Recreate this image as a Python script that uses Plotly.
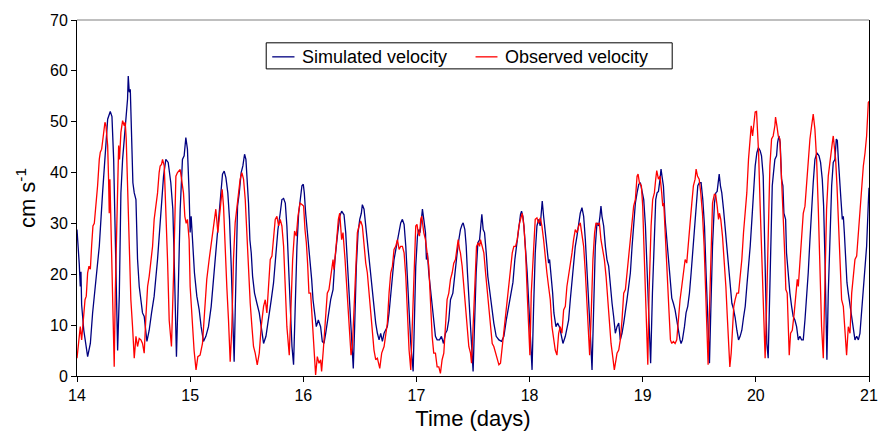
import plotly.graph_objects as go

# ---- data (time in days, speed in cm/s) ----
sim_t = [14.000, 14.006, 14.020, 14.029, 14.035, 14.041, 14.060, 14.094, 14.118, 14.138, 14.159, 14.176, 14.197, 14.226, 14.256, 14.271, 14.294, 14.309, 14.324, 14.335, 14.353, 14.359, 14.374, 14.388, 14.403, 14.418, 14.432, 14.447, 14.453, 14.462, 14.471, 14.482, 14.494, 14.506, 14.521, 14.535, 14.550, 14.579, 14.594, 14.618, 14.638, 14.659, 14.682, 14.712, 14.741, 14.765, 14.785, 14.806, 14.829, 14.847, 14.859, 14.874, 14.879, 14.894, 14.912, 14.932, 14.947, 14.962, 14.976, 14.991,
         15.000, 15.009, 15.021, 15.038, 15.059, 15.080, 15.097, 15.118, 15.139, 15.162, 15.186, 15.206, 15.227, 15.251, 15.271, 15.286, 15.301, 15.316, 15.333, 15.348, 15.363, 15.378, 15.389, 15.398, 15.407, 15.419, 15.434, 15.451, 15.466, 15.481, 15.493, 15.504, 15.516, 15.528, 15.540, 15.552, 15.569, 15.590, 15.611, 15.628, 15.649, 15.670, 15.693, 15.717, 15.737, 15.758, 15.776, 15.796, 15.811, 15.826, 15.841, 15.855, 15.870, 15.885, 15.900, 15.914, 15.929, 15.944, 15.959, 15.976, 15.988,
         16.000, 16.009, 16.021, 16.032, 16.044, 16.056, 16.074, 16.086, 16.103, 16.115, 16.133, 16.153, 16.168, 16.183, 16.198, 16.221, 16.242, 16.263, 16.280, 16.301, 16.322, 16.339, 16.360, 16.375, 16.389, 16.404, 16.419, 16.434, 16.442, 16.454, 16.469, 16.484, 16.499, 16.513, 16.522, 16.537, 16.552, 16.566, 16.581, 16.596, 16.611, 16.625, 16.640, 16.655, 16.670, 16.684, 16.699, 16.714, 16.729, 16.743, 16.758, 16.773, 16.788, 16.802, 16.823, 16.847, 16.861, 16.876, 16.891, 16.906, 16.920, 16.935, 16.950, 16.971, 16.982, 16.994,
         17.009, 17.021, 17.032, 17.044, 17.053, 17.065, 17.080, 17.088, 17.097, 17.109, 17.121, 17.133, 17.145, 17.156, 17.168, 17.183, 17.204, 17.221, 17.239, 17.257, 17.271, 17.286, 17.301, 17.322, 17.339, 17.360, 17.375, 17.389, 17.404, 17.413, 17.428, 17.440, 17.451, 17.463, 17.478, 17.493, 17.501, 17.513, 17.528, 17.543, 17.558, 17.569, 17.578, 17.590, 17.602, 17.617, 17.631, 17.646, 17.664, 17.684, 17.705, 17.729, 17.752, 17.773, 17.794, 17.817, 17.841, 17.853, 17.870, 17.891, 17.906, 17.920, 17.929, 17.941, 17.950, 17.965, 17.979, 17.994,
         18.009, 18.022, 18.035, 18.050, 18.065, 18.080, 18.094, 18.103, 18.112, 18.124, 18.139, 18.153, 18.168, 18.177, 18.192, 18.204, 18.215, 18.233, 18.248, 18.263, 18.277, 18.295, 18.316, 18.330, 18.345, 18.360, 18.375, 18.389, 18.404, 18.419, 18.434, 18.448, 18.463, 18.478, 18.493, 18.507, 18.522, 18.537, 18.552, 18.566, 18.581, 18.596, 18.611, 18.622, 18.631, 18.640, 18.655, 18.670, 18.684, 18.699, 18.714, 18.729, 18.743, 18.758, 18.773, 18.788, 18.802, 18.817, 18.832, 18.847, 18.861, 18.876, 18.891, 18.906, 18.920, 18.935, 18.950, 18.965, 18.979, 18.994,
         19.009, 19.024, 19.038, 19.053, 19.070, 19.086, 19.103, 19.115, 19.127, 19.139, 19.153, 19.162, 19.174, 19.183, 19.198, 19.212, 19.221, 19.233, 19.245, 19.257, 19.271, 19.286, 19.301, 19.316, 19.330, 19.339, 19.351, 19.369, 19.383, 19.398, 19.413, 19.428, 19.442, 19.457, 19.472, 19.487, 19.501, 19.516, 19.531, 19.546, 19.560, 19.575, 19.590, 19.602, 19.617, 19.634, 19.646, 19.658, 19.667, 19.676, 19.687, 19.699, 19.714, 19.729, 19.743, 19.752, 19.764, 19.773, 19.788, 19.802, 19.817, 19.832, 19.847, 19.861, 19.876, 19.891, 19.906, 19.920, 19.935, 19.950, 19.965, 19.979, 19.994,
         20.009, 20.022, 20.038, 20.050, 20.065, 20.074, 20.086, 20.097, 20.109, 20.121, 20.133, 20.145, 20.156, 20.168, 20.183, 20.192, 20.204, 20.215, 20.227, 20.239, 20.248, 20.263, 20.271, 20.286, 20.301, 20.316, 20.330, 20.345, 20.360, 20.375, 20.389, 20.404, 20.419, 20.434, 20.448, 20.463, 20.478, 20.493, 20.507, 20.522, 20.540, 20.558, 20.572, 20.587, 20.599, 20.611, 20.619, 20.628, 20.640, 20.655, 20.670, 20.684, 20.699, 20.711, 20.720, 20.729, 20.743, 20.752, 20.764, 20.773, 20.782, 20.794, 20.805, 20.817, 20.832, 20.847, 20.861, 20.876, 20.891, 20.906, 20.920, 20.935, 20.950, 20.965, 20.979, 20.994, 21.000]
sim_v = [28.8, 27, 22, 17.6, 20.5, 14, 9, 3.8, 6.4, 12.4, 17, 20, 25.5, 36, 47, 50.5, 52, 51, 42.6, 29.5, 9.7, 5, 16, 36, 42.6, 46.6, 51, 54.5, 59, 55.8, 56.4, 46, 38, 36, 34.7, 23, 17.6, 12.4, 11.7, 6.8, 9, 12.4, 15.7, 23, 32.8, 39.3, 42.6, 42, 38, 32.8, 23, 9.7, 3.8, 16, 32.8, 42.6, 43.3, 46.9, 44.6, 36,
         28.2, 31.4, 25.5, 20.3, 15.7, 13, 9.7, 6.8, 7.8, 9.7, 13.7, 19, 25.5, 32, 37.4, 39.7, 40.3, 39, 36, 30.8, 21.6, 9.7, 2.8, 12.4, 25.5, 33.4, 36, 40, 41.3, 43.6, 42.6, 39.3, 34, 26.8, 24.2, 19.6, 16.3, 14.3, 12.4, 9.7, 6.4, 7.8, 11, 15, 18.3, 24.2, 28.8, 32, 34.7, 34.9, 34, 29.5, 21.6, 12.4, 5.8, 2.2, 15, 25.5, 32, 34.7, 37.4,
         37.7, 36, 32, 29.5, 26.8, 23.6, 19, 15, 11, 9.7, 11, 9.7, 6.8, 6.4, 8.4, 12.4, 15, 17, 22.9, 27.5, 31.4, 32.4, 31.7, 28.2, 22.9, 16.3, 9.7, 4.5, 1.5, 9.7, 21.6, 28.2, 30.8, 32, 33.7, 32.8, 29.5, 25.5, 22.9, 20.3, 17, 13.7, 10.4, 8.4, 7.1, 8.4, 6.8, 8.4, 9, 9.7, 12.4, 16.3, 19.6, 22.9, 25.5, 28.2, 30.1, 30.8, 29.8, 25.5, 19.6, 12.4, 6.4, 0.9, 9.7, 21.6,
         27.5, 28.8, 28.2, 31.4, 32.8, 30.8, 28.2, 22.9, 24.2, 20.3, 17.6, 16.3, 13, 9.7, 7.8, 7.1, 7.1, 7.8, 6.4, 8.4, 9, 11, 15, 16.3, 20.3, 24.2, 26.8, 28.8, 29.8, 30.1, 28.8, 25.5, 20.3, 15, 8.4, 4.5, 0.9, 9.7, 20.3, 26.2, 26.8, 29.5, 31.8, 28.8, 28.2, 24.2, 19.6, 17, 13.7, 10.4, 7.8, 7.1, 6.8, 7.8, 11, 13.7, 16.3, 18.4, 22.9, 26.8, 29.5, 31.8, 32.4, 31.4, 29.5, 25.5, 20.3, 13.7,
         7.1, 1.2, 13, 24.2, 29.5, 30.8, 29.5, 32.8, 34.4, 31.4, 28.2, 24.2, 22.2, 22.9, 19.6, 16.3, 12.4, 9.7, 10.4, 9.7, 8.4, 6.4, 7.8, 9.7, 11, 15, 19, 22.9, 25.5, 27.5, 29.5, 32, 33.1, 31.4, 26.8, 21.6, 15, 8.4, 1.2, 12.4, 25.5, 30.1, 29.5, 31.4, 33.4, 31.4, 29.5, 25.5, 22.9, 21.6, 17.6, 14.3, 11.7, 8.4, 9.7, 10.4, 7.1, 8.4, 10.4, 12.4, 15, 17.6, 20.3, 25.5, 29.5, 34, 36, 37.7, 38, 36,
         34.7, 29.5, 21.6, 12.4, 2.5, 16.3, 29.5, 34.7, 36, 36.3, 38.7, 40.7, 38.7, 37.4, 30.8, 26.8, 24.2, 21.6, 19, 15.3, 14.3, 13, 11, 8.4, 7.1, 6.4, 7.1, 9.7, 12.4, 13.7, 16.3, 20.3, 24.2, 29.5, 34, 37.4, 38, 38, 34.7, 29.5, 20.3, 9.7, 2.5, 13, 25.5, 34, 36, 36.3, 38, 39.7, 37.4, 36, 32.8, 28.8, 25.5, 22.9, 20.3, 17.6, 14.3, 13.2, 11.5, 9, 7.1, 7.8, 9, 11.5, 13.7, 17.6, 20.9, 25.5, 30.8, 36, 41.3,
         43.9, 44.9, 44.3, 43.3, 39.3, 29.5, 16.3, 6.4, 3.5, 16.3, 29.5, 37.4, 40, 42.6, 43.3, 45.9, 47.2, 45.9, 38.7, 37.4, 32, 30.8, 24.2, 19.6, 16.3, 13.7, 11.7, 11, 9.7, 7.1, 7.8, 7.1, 7.1, 11, 15, 20.3, 26.8, 33.4, 38, 42.6, 43.9, 43.3, 42, 38.7, 33.4, 22.9, 9.7, 3.2, 16.3, 29.5, 37.4, 42, 42.6, 46.6, 46.3, 42.6, 38.7, 34.7, 30.8, 31.4, 28.2, 21.6, 18.4, 16.3, 13.7, 11.7, 9.7, 7.1, 7.8, 7.1, 8.4, 12.4, 16.3, 20.3, 25.5, 34, 37]

obs_t = [14.000, 14.021, 14.029, 14.041, 14.059, 14.071, 14.082, 14.094, 14.106, 14.118, 14.129, 14.141, 14.153, 14.168, 14.182, 14.197, 14.206, 14.218, 14.229, 14.247, 14.256, 14.271, 14.279, 14.285, 14.291, 14.300, 14.309, 14.321, 14.329, 14.338, 14.350, 14.359, 14.368, 14.376, 14.388, 14.403, 14.418, 14.426, 14.435, 14.447, 14.462, 14.476, 14.491, 14.506, 14.521, 14.535, 14.550, 14.565, 14.579, 14.594, 14.609, 14.624, 14.638, 14.653, 14.668, 14.682, 14.697, 14.712, 14.726, 14.735, 14.747, 14.756, 14.771, 14.785, 14.800, 14.815, 14.835, 14.853, 14.874, 14.888, 14.912, 14.924, 14.941, 14.953, 14.965, 14.976, 14.991,
         15.000, 15.012, 15.024, 15.035, 15.052, 15.068, 15.088, 15.109, 15.127, 15.147, 15.168, 15.183, 15.198, 15.215, 15.227, 15.245, 15.257, 15.271, 15.283, 15.295, 15.310, 15.324, 15.339, 15.354, 15.369, 15.383, 15.398, 15.413, 15.428, 15.442, 15.457, 15.472, 15.487, 15.501, 15.516, 15.531, 15.546, 15.560, 15.575, 15.593, 15.611, 15.628, 15.649, 15.664, 15.678, 15.693, 15.708, 15.723, 15.737, 15.752, 15.767, 15.782, 15.796, 15.811, 15.826, 15.841, 15.855, 15.876, 15.894, 15.906, 15.923, 15.938, 15.953, 15.971, 15.988,
         16.003, 16.015, 16.027, 16.038, 16.050, 16.065, 16.080, 16.094, 16.109, 16.124, 16.139, 16.153, 16.162, 16.177, 16.192, 16.212, 16.227, 16.251, 16.263, 16.271, 16.286, 16.298, 16.310, 16.322, 16.339, 16.351, 16.369, 16.383, 16.398, 16.413, 16.422, 16.434, 16.448, 16.463, 16.478, 16.493, 16.507, 16.522, 16.537, 16.552, 16.566, 16.581, 16.596, 16.611, 16.625, 16.640, 16.655, 16.676, 16.693, 16.714, 16.729, 16.743, 16.758, 16.773, 16.788, 16.802, 16.817, 16.832, 16.847, 16.861, 16.876, 16.891, 16.906, 16.920, 16.935, 16.950, 16.965, 16.979, 16.994,
         17.005, 17.015, 17.027, 17.038, 17.047, 17.056, 17.065, 17.080, 17.094, 17.109, 17.118, 17.127, 17.139, 17.153, 17.168, 17.183, 17.198, 17.212, 17.227, 17.242, 17.257, 17.271, 17.286, 17.301, 17.316, 17.330, 17.345, 17.360, 17.369, 17.381, 17.389, 17.404, 17.419, 17.434, 17.448, 17.463, 17.478, 17.487, 17.501, 17.516, 17.531, 17.546, 17.558, 17.566, 17.581, 17.596, 17.611, 17.625, 17.640, 17.655, 17.670, 17.684, 17.699, 17.714, 17.729, 17.743, 17.758, 17.773, 17.788, 17.802, 17.817, 17.832, 17.847, 17.861, 17.876, 17.891, 17.906, 17.920, 17.935, 17.950, 17.965, 17.979, 17.992,
         18.003, 18.015, 18.035, 18.050, 18.065, 18.080, 18.094, 18.109, 18.124, 18.139, 18.153, 18.168, 18.183, 18.198, 18.212, 18.227, 18.242, 18.257, 18.271, 18.286, 18.301, 18.316, 18.330, 18.345, 18.360, 18.375, 18.389, 18.404, 18.419, 18.434, 18.448, 18.463, 18.478, 18.493, 18.507, 18.522, 18.531, 18.546, 18.560, 18.575, 18.587, 18.602, 18.617, 18.631, 18.646, 18.661, 18.676, 18.690, 18.705, 18.720, 18.735, 18.749, 18.764, 18.773, 18.788, 18.802, 18.817, 18.832, 18.847, 18.861, 18.876, 18.891, 18.906, 18.920, 18.935, 18.950, 18.959, 18.971, 18.988,
         19.000, 19.009, 19.024, 19.038, 19.045, 19.056, 19.074, 19.088, 19.103, 19.115, 19.124, 19.139, 19.153, 19.168, 19.177, 19.186, 19.198, 19.212, 19.221, 19.233, 19.245, 19.257, 19.271, 19.286, 19.301, 19.316, 19.330, 19.345, 19.360, 19.375, 19.389, 19.404, 19.419, 19.434, 19.448, 19.463, 19.472, 19.484, 19.499, 19.513, 19.528, 19.543, 19.558, 19.569, 19.578, 19.590, 19.605, 19.617, 19.634, 19.646, 19.658, 19.670, 19.678, 19.690, 19.705, 19.720, 19.735, 19.746, 19.758, 19.770, 19.782, 19.794, 19.805, 19.817, 19.832, 19.847, 19.861, 19.876, 19.891, 19.906, 19.920, 19.935, 19.950, 19.959, 19.971, 19.982, 19.994,
         20.006, 20.024, 20.038, 20.053, 20.068, 20.082, 20.094, 20.109, 20.124, 20.139, 20.153, 20.168, 20.174, 20.186, 20.198, 20.212, 20.221, 20.233, 20.245, 20.257, 20.265, 20.277, 20.286, 20.295, 20.307, 20.322, 20.339, 20.354, 20.366, 20.375, 20.389, 20.404, 20.419, 20.434, 20.448, 20.463, 20.478, 20.493, 20.507, 20.522, 20.537, 20.552, 20.566, 20.581, 20.596, 20.611, 20.625, 20.640, 20.655, 20.664, 20.676, 20.684, 20.693, 20.705, 20.717, 20.729, 20.743, 20.758, 20.773, 20.788, 20.802, 20.817, 20.832, 20.847, 20.861, 20.876, 20.891, 20.906, 20.920, 20.935, 20.950, 20.965, 20.979, 20.994, 21.000]
obs_v = [3.5, 7.8, 9.7, 7.1, 12.4, 15, 15.7, 20.3, 21.6, 21, 25.5, 29.5, 30, 33.4, 37.4, 42.6, 44, 44.6, 47, 49.9, 49.2, 45.3, 38.7, 32, 38.7, 29.5, 17.6, 6.4, 1.8, 16, 29.5, 42.6, 45.3, 42.6, 47.9, 50.2, 49.2, 49.9, 46.6, 37.4, 23, 15, 9.7, 3.5, 7.8, 5.8, 7.4, 7.1, 6.4, 4.5, 11.7, 17.6, 19.6, 22.2, 25.5, 30.8, 33.4, 36, 40, 41.3, 41.6, 42.6, 41.3, 34, 23, 10.9, 5.8, 19.6, 39.3, 40, 40.6, 38.7, 36, 31.4, 30, 30.8, 26.8,
         17.6, 12.4, 8, 5, 1.2, 3.8, 4.1, 6.4, 12.4, 19, 22.9, 25.2, 28.2, 30.8, 32.8, 28.2, 30.8, 34.7, 36.7, 33.4, 24.2, 17.6, 11, 2.8, 9.7, 22.9, 30.1, 33.4, 36, 38.7, 40, 38.7, 34.7, 27.5, 20.3, 14.3, 9.7, 5.8, 4.5, 2.2, 4.5, 9.7, 13.7, 15, 12.4, 19, 22.9, 23.6, 26.8, 30.8, 31.4, 29.5, 30.8, 29.5, 25.5, 17.6, 9.7, 4.1, 16.3, 22.9, 28.5, 27.5, 31.4, 34, 33.7,
         33.4, 28.8, 26.2, 22.2, 16.3, 16.3, 11, 6.4, 0.2, 3.8, 2.5, 3.2, 0.9, 5.1, 10.4, 16.3, 17, 21.6, 22.9, 20.9, 25.5, 27.5, 30.8, 32, 26.8, 28.2, 22.9, 17.6, 11, 5.8, 4.1, 5.8, 13.7, 21.6, 28.2, 29.5, 30.5, 29.5, 25.5, 22.2, 20.3, 16.3, 12.4, 8.4, 5.1, 3.2, 3.5, 1.5, 4.5, 5.8, 8.4, 10.4, 16.3, 20.3, 21.6, 24.9, 25.5, 26.8, 24.9, 25.5, 25.5, 24.2, 19.6, 12.4, 5.1, 1.2, 9.7, 19.6, 29.5,
         29.8, 28.2, 27.5, 30.8, 31.4, 29.5, 28.2, 26.8, 24.2, 21.6, 17.6, 12.4, 7.8, 4.5, 4.5, 1.8, 1.8, 0.5, 3.2, 4.5, 9.7, 15, 16.3, 19, 20.3, 22.2, 22.9, 25.5, 26.8, 24.9, 24.2, 21.6, 17.6, 12.4, 8.4, 5.8, 4.5, 2.5, 9.7, 19.6, 25.5, 26.2, 25.5, 26.8, 25.5, 24.2, 20.3, 17, 12.4, 9.7, 6.4, 5.8, 4.5, 3.2, 2.2, 2.5, 5.8, 9, 12.4, 15, 17.6, 21.6, 24.2, 25.5, 25.5, 26.8, 29.5, 30.8, 32, 29.5, 24.2, 16.3, 9.7,
         4.1, 16.3, 25.5, 30.8, 31.1, 30, 31.1, 29.5, 26.8, 22.9, 20.3, 17.6, 15, 9.7, 7.1, 5.1, 4.1, 8.4, 9.7, 8.4, 13, 13.7, 17.6, 19.6, 21.6, 24.2, 26.8, 28.8, 28.2, 29.5, 30.1, 28.2, 25.5, 20.3, 13.7, 7.1, 4.1, 13, 22.9, 28.2, 30.1, 29.8, 30.1, 26.8, 24.9, 22.9, 19.6, 15, 9.7, 6.4, 3.8, 1.2, 3.2, 4.5, 5.1, 7.1, 11, 16.3, 17, 20.3, 22.9, 26.8, 30.8, 33.4, 34.7, 39.3, 39.7, 38, 37.4,
         33.4, 26.8, 16.3, 3.2, 2.2, 16.3, 29.5, 34.7, 36, 38.7, 40.4, 38.7, 39.3, 36, 33.4, 34, 28.2, 19.6, 17, 12.4, 7.1, 6.4, 6.8, 6.4, 7.1, 12.4, 15, 17.6, 20.3, 22.9, 22.2, 26.8, 30.1, 34, 37.4, 38.7, 40.7, 39.3, 38.7, 36, 32, 25.5, 15, 4.1, 2.2, 13, 25.5, 34, 35.8, 35.5, 33.4, 30.8, 32, 30.8, 27.5, 22.9, 17.6, 12.4, 5.8, 1.8, 4.5, 11, 13.7, 15, 16.3, 16.3, 19, 22.9, 28.2, 32, 36, 42.6, 46.6, 49.2, 47.2, 49.9, 51.9,
         52, 44, 33.4, 21.6, 9.7, 3.5, 13, 29.5, 41.3, 46.6, 47.2, 49.2, 50.9, 49.2, 47.2, 46.6, 42.6, 36, 29.5, 22.9, 17, 16.3, 9.7, 4.1, 8.4, 9, 12.4, 16.3, 19, 17.6, 22.9, 28.2, 32, 33.4, 37.4, 42.6, 46.6, 49.2, 51.5, 48.5, 42.6, 32.8, 19.6, 9.7, 3.5, 16.3, 32.8, 39.3, 42.6, 43.3, 45.9, 47.2, 45.3, 42.6, 37.4, 30.8, 22.9, 15, 13.7, 8.4, 4.1, 9.7, 8.4, 16.3, 19, 22.9, 23.6, 28.2, 33.4, 36, 41.3, 43.9, 47.2, 53.8, 54]

x_ticks = [14, 15, 16, 17, 18, 19, 20, 21]
y_ticks = [0, 10, 20, 30, 40, 50, 60, 70]
series_names = ["Simulated velocity", "Observed velocity"]
series_colors = ["#000080", "#FF0000"]

FONT = "Liberation Sans, Arial, sans-serif"

fig = go.Figure()
fig.add_trace(go.Scatter(x=sim_t, y=sim_v, mode="lines", name=series_names[0],
                         line=dict(color=series_colors[0], width=1.3)))
fig.add_trace(go.Scatter(x=obs_t, y=obs_v, mode="lines", name=series_names[1],
                         line=dict(color=series_colors[1], width=1.3)))

tickfont = dict(family=FONT, size=16, color="black")
fig.update_xaxes(range=[14, 21], tickvals=x_ticks, showgrid=False, zeroline=False,
                 showline=True, linecolor="black", linewidth=1, mirror=False,
                 ticks="outside", ticklen=5, tickwidth=1, tickcolor="black", tickfont=tickfont,
                 title=dict(text="Time (days)", font=dict(family=FONT, size=22, color="black"), standoff=11))
fig.update_yaxes(range=[0, 70], tickvals=y_ticks, showgrid=False, zeroline=False,
                 showline=True, linecolor="black", linewidth=1, mirror=True,
                 ticks="outside", ticklen=5, tickwidth=1, tickcolor="black", tickfont=tickfont,
                 title=dict(text="cm s<sup>-1</sup>", font=dict(family=FONT, size=22, color="black"), standoff=8))

# top frame line (grey) and hand-built legend box
shapes = [dict(type="line", xref="paper", yref="paper", x0=0, x1=1, y0=1, y1=1,
               line=dict(color="#808080", width=1.2)),
          dict(type="rect", xref="paper", yref="paper", x0=0.2389, x1=0.7515, y0=0.8627, y1=0.9359,
               line=dict(color="black", width=1), fillcolor="white", layer="above")]
leg_line_x = [(0.2465, 0.2746), (0.5032, 0.5309)]
leg_text_x = [0.2831, 0.5389]
leg_y = 0.8965
annotations = []
for i in range(2):
    shapes.append(dict(type="line", xref="paper", yref="paper", x0=leg_line_x[i][0], x1=leg_line_x[i][1],
                       y0=leg_y, y1=leg_y, line=dict(color=series_colors[i], width=1.3), layer="above"))
    annotations.append(dict(text=series_names[i], xref="paper", yref="paper", x=leg_text_x[i], y=leg_y,
                            xanchor="left", yanchor="middle", showarrow=False, borderpad=0,
                            font=dict(family=FONT, size=18, color="black")))

fig.update_layout(
    width=887, height=431,
    margin=dict(l=77, r=18, t=20, b=55, autoexpand=False),
    paper_bgcolor="white", plot_bgcolor="white",
    showlegend=False,
    shapes=shapes, annotations=annotations,
)

fig.write_html("out.html", config={"displayModeBar": False},
               post_script="document.body.style.margin='0px';")
